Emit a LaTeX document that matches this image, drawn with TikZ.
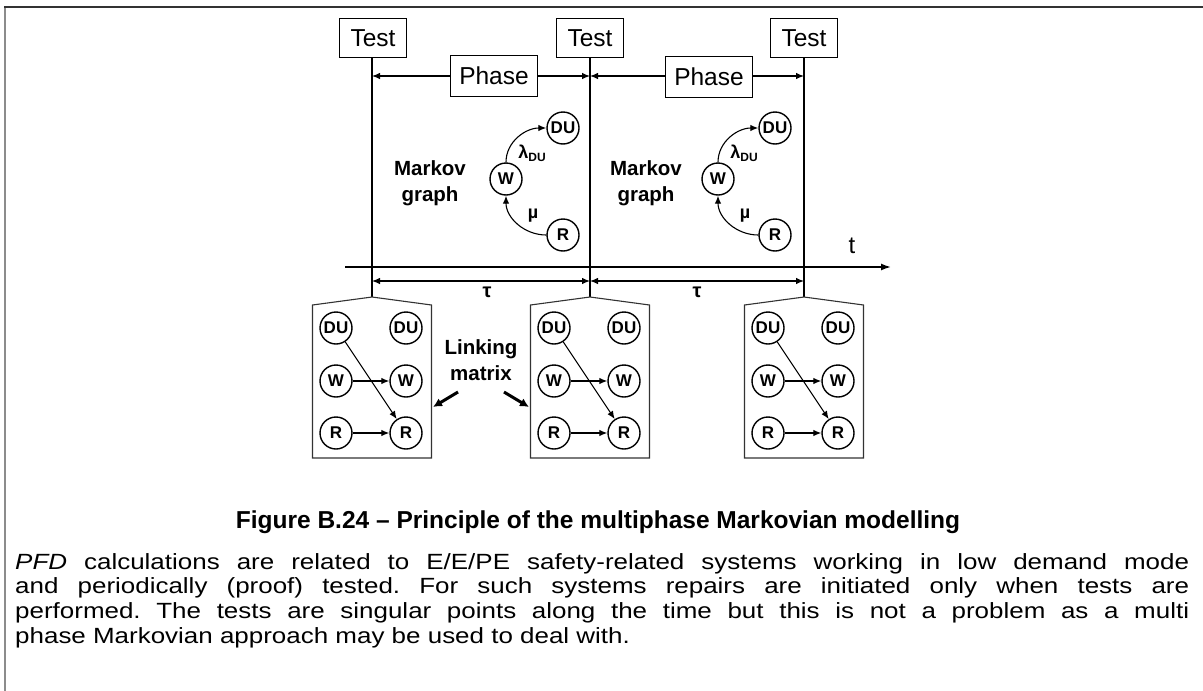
\documentclass[tikz,border=0pt]{standalone}
\usepackage{fontspec}
\setmainfont{Liberation Sans}
\newfontfamily\bodyfont[FakeStretch=1.18]{Liberation Sans}
\usetikzlibrary{arrows.meta}
\begin{document}
\begin{tikzpicture}[x=1pt,y=-1pt,
  lbl/.style={draw, line width=1.2pt, fill=white, inner sep=0pt, font=\fontsize{24.5}{28}\selectfont},
  st/.style={circle, draw, line width=1.4pt, minimum size=32pt, inner sep=0pt, font=\bfseries\fontsize{17}{17}\selectfont},
  bold/.style={font=\bfseries\fontsize{20.5}{26}\selectfont, align=center},
  tip/.style={-{Latex[length=8pt,width=6.5pt]}},
  dtip/.style={{Latex[length=8pt,width=6.5pt]}-{Latex[length=8pt,width=6.5pt]}},
  vline/.style={line width=2.6pt},
  pent/.style={draw, line width=1.1pt, black!80}
]
\useasboundingbox (0,0) rectangle (1203,691);
% frame
\draw[line width=1.6pt, black!45] (5,691) -- (5,7);
\draw[line width=2pt, black!80] (4.2,7) -- (1203,7);

% test boxes
\node[lbl, minimum width=67pt, minimum height=39pt] (t1) at (373,38) {Test};
\node[lbl, minimum width=67pt, minimum height=39pt] (t2) at (590,38) {Test};
\node[lbl, minimum width=67pt, minimum height=39pt] (t3) at (804,38) {Test};

% apexes of the pentagons
\coordinate (a1) at (372,297);
\coordinate (a2) at (590,297);
\coordinate (a3) at (804,297);
\draw[vline] (t1.south -| a1) -- (a1);
\draw[vline] (t2.south) -- (a2);
\draw[vline] (t3.south) -- (a3);

% phase arrows
\node[lbl, minimum width=87pt, minimum height=41pt] (p1) at (494,76) {Phase};
\node[lbl, minimum width=87pt, minimum height=41pt] (p2) at (709,77) {Phase};
\coordinate (p1l) at (372,76);
\coordinate (p1r) at (590,76);
\coordinate (p2l) at (590,76);
\coordinate (p2r) at (804,76);
\draw[tip, line width=1.1pt] (p1.west |- p1l) -- (p1l);
\draw[tip, line width=1.1pt] (p1.east |- p1r) -- (p1r);
\draw[tip, line width=1.1pt] (p2.west |- p2l) -- (p2l);
\draw[tip, line width=1.1pt] (p2.east |- p2r) -- (p2r);

% time axis
\coordinate (ax0) at (345,267);
\coordinate (ax1) at (891,267);
\draw[-{Latex[length=10pt,width=7pt]}, line width=1.6pt] (ax0) -- (ax1);
\node[font=\fontsize{24}{26}\selectfont] (tl) at (852,246) {t};

% tau arrows
\coordinate (u1) at (372,281);
\coordinate (u2) at (590,281);
\coordinate (u3) at (804,281);
\draw[dtip, line width=1.1pt] (u1) -- (u2);
\draw[dtip, line width=1.1pt] (u2) -- (u3);
\node[font=\bfseries\fontsize{20}{22}\selectfont, inner sep=0pt] (tau1) at (487,292) {τ};
\node[font=\bfseries\fontsize{20}{22}\selectfont, inner sep=0pt] (tau2) at (697,292) {τ};

% Markov graphs
\node[bold] (mg1) at (430,183) {Markov\\graph};
\node[bold] (mg2) at (646,183) {Markov\\graph};

\node[st] (du1) at (563,128) {DU};
\node[st] (w1) at (506,179) {W};
\node[st] (r1) at (563,235) {R};
\draw[tip, line width=1.1pt] (w1.north) to[out=90,in=180] (du1.west);
\draw[tip, line width=1.1pt] (r1.west) to[out=180,in=-90] (w1.south);
\node[font=\bfseries\fontsize{18}{18}\selectfont, inner sep=0pt] (lam1) at (532,153) {λ\raisebox{-3pt}{\fontsize{12}{12}\selectfont DU}};
\node[font=\bfseries\fontsize{18}{18}\selectfont, inner sep=0pt] (mu1) at (533,216) {µ};

\node[st] (du2) at (775,128) {DU};
\node[st] (w2) at (718,179) {W};
\node[st] (r2) at (775,235) {R};
\draw[tip, line width=1.1pt] (w2.north) to[out=90,in=180] (du2.west);
\draw[tip, line width=1.1pt] (r2.west) to[out=180,in=-90] (w2.south);
\node[font=\bfseries\fontsize{18}{18}\selectfont, inner sep=0pt] (lam2) at (744,153) {λ\raisebox{-3pt}{\fontsize{12}{12}\selectfont DU}};
\node[font=\bfseries\fontsize{18}{18}\selectfont, inner sep=0pt] (mu2) at (745,216) {µ};

% linking matrices (pentagons)
\foreach \i/\c in {1/372,2/590,3/804}{
  \draw[pent] (a\i) -- (\c+59.5,305) -- (\c+59.5,458) -- (\c-59.5,458) -- (\c-59.5,305) -- cycle;
  \node[st] (ldu\i) at (\c-36,328) {DU};
  \node[st] (rdu\i) at (\c+34,328) {DU};
  \node[st] (lw\i) at (\c-36,381) {W};
  \node[st] (rw\i) at (\c+34,381) {W};
  \node[st] (lr\i) at (\c-36,433) {R};
  \node[st] (rr\i) at (\c+34,433) {R};
  \draw[tip, line width=1.1pt] (ldu\i) -- (rr\i);
  \draw[tip, line width=1.1pt] (lw\i) -- (rw\i);
  \draw[tip, line width=1.1pt] (lr\i) -- (rr\i);
}

% linking matrix label
\node[bold] (lm) at (481,360) {Linking\\matrix};
\coordinate (b1s) at (458,392);
\coordinate (b1e) at (433,407);
\coordinate (b2s) at (504,392);
\coordinate (b2e) at (529,407);
\draw[-{Latex[length=9pt,width=9pt]}, line width=3pt] (b1s) -- (b1e);
\draw[-{Latex[length=9pt,width=9pt]}, line width=3pt] (b2s) -- (b2e);

% caption
\node[font=\bfseries\fontsize{24.5}{28}\selectfont] (cap) at (598,522) {Figure B.24 – Principle of the multiphase Markovian modelling};

% body text
\node[anchor=north west, inner sep=0pt, text width=1174pt, font=\bodyfont\fontsize{22}{24.7}\selectfont, align=justify] (body) at (15,553)
{\frenchspacing\emph{PFD} calculations are related to E/E/PE safety-related systems working in low demand mode\linebreak
and periodically (proof) tested. For such systems repairs are initiated only when tests are\linebreak
performed. The tests are singular points along the time but this is not a problem as a multi\linebreak
phase Markovian approach may be used to deal with.};
\end{tikzpicture}
\end{document}
